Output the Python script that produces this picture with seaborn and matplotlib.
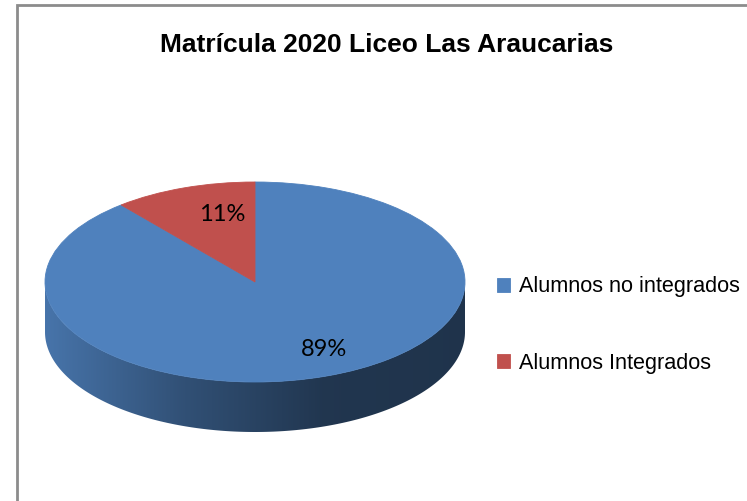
import numpy as np
import matplotlib
matplotlib.use("Agg")
import matplotlib.pyplot as plt
import matplotlib.transforms as mtransforms
import seaborn as sns
from matplotlib.patches import Polygon, Rectangle
from matplotlib.colors import LinearSegmentedColormap, to_rgb

# datos del grafico
titulo = "Matrícula 2020 Liceo Las Araucarias"
categorias = ["Alumnos no integrados", "Alumnos Integrados"]
porcentajes = [89, 11]
colores = ["#4F81BD", "#C0504D"]

sns.set_theme(style="white")
plt.rcParams["font.family"] = ["Liberation Sans", "DejaVu Sans"]
plt.rcParams["text.color"] = "black"

W, H = 747, 501
fig = plt.figure(figsize=(W / 100, H / 100), dpi=100)

# ejes del pie: 1 unidad = 210 px de ancho y 100 px de alto (pie "3D" aplastado)
cx, cy = 255, 219
rx, ry = 210, 100
xlim = (-1.1, 1.1)
ylim = (-1.8, 1.2)
ax = fig.add_axes([(cx + xlim[0] * rx) / W, (cy + ylim[0] * ry) / H,
                   (xlim[1] - xlim[0]) * rx / W, (ylim[1] - ylim[0]) * ry / H])

wedges, texts, autotexts = ax.pie(
    porcentajes, colors=colores, startangle=90, counterclock=False,
    autopct="%1.0f%%", pctdistance=0.72,
    wedgeprops=dict(linewidth=0.6),
    textprops=dict(fontsize=17, color="black", family=["Lato", "DejaVu Sans"]))
for w in wedges:
    w.set_edgecolor(w.get_facecolor())

# excel coloca las etiquetas algo mas a la derecha
desplazar = mtransforms.ScaledTranslation(13 / 72, 0, fig.dpi_scale_trans)
for t in autotexts:
    t.set_transform(t.get_transform() + desplazar)

# lateral del cilindro (solo la mitad frontal es visible)
depth = 0.5
for w, c in zip(wedges, colores):
    for k in (-360, 0, 360):
        a = max(w.theta1 + k, 180)
        b = min(w.theta2 + k, 360)
        if b <= a:
            continue
        t = np.radians(np.linspace(a, b, 200))
        xs, ys = np.cos(t), np.sin(t)
        pts = np.column_stack([np.r_[xs, xs[::-1]], np.r_[ys, ys[::-1] - depth]])
        poly = Polygon(pts, closed=True, facecolor="none", edgecolor="none")
        ax.add_patch(poly)
        rgb = np.array(to_rgb(c))
        cmap = LinearSegmentedColormap.from_list(
            "lado", [rgb * 0.9, rgb * 0.62, rgb * 0.42, rgb * 0.4])
        grad = np.linspace(0, 1, 256)[None, :]
        im = ax.imshow(grad, cmap=cmap, extent=[-1, 1, -1 - depth, 0],
                       aspect="auto", zorder=0.5, interpolation="bilinear")
        im.set_clip_path(poly)

ax.set_aspect("auto")
ax.set_xlim(xlim)
ax.set_ylim(ylim)
ax.axis("off")

fig.text(387 / W, 1 - 45 / H, titulo, ha="center", va="center", fontsize=19,
         fontweight="bold", family=["Liberation Sans Narrow", "Liberation Sans", "DejaVu Sans"])

fig.legend(wedges, categorias, loc="center left", bbox_to_anchor=(497 / W, 176 / H),
           frameon=False, borderpad=0, borderaxespad=0, handlelength=0.62,
           handleheight=0.62, handletextpad=0.4, labelspacing=2.55,
           prop={"family": "Liberation Sans", "size": 15.6})

# marco gris del area del grafico
fig.add_artist(Rectangle((16.5 / W, -0.1), 1.2, 1 - 4.5 / H + 0.1, transform=fig.transFigure,
                         fill=False, edgecolor="#8C8C8C", linewidth=2))

fig.savefig("out.png", dpi=100)
